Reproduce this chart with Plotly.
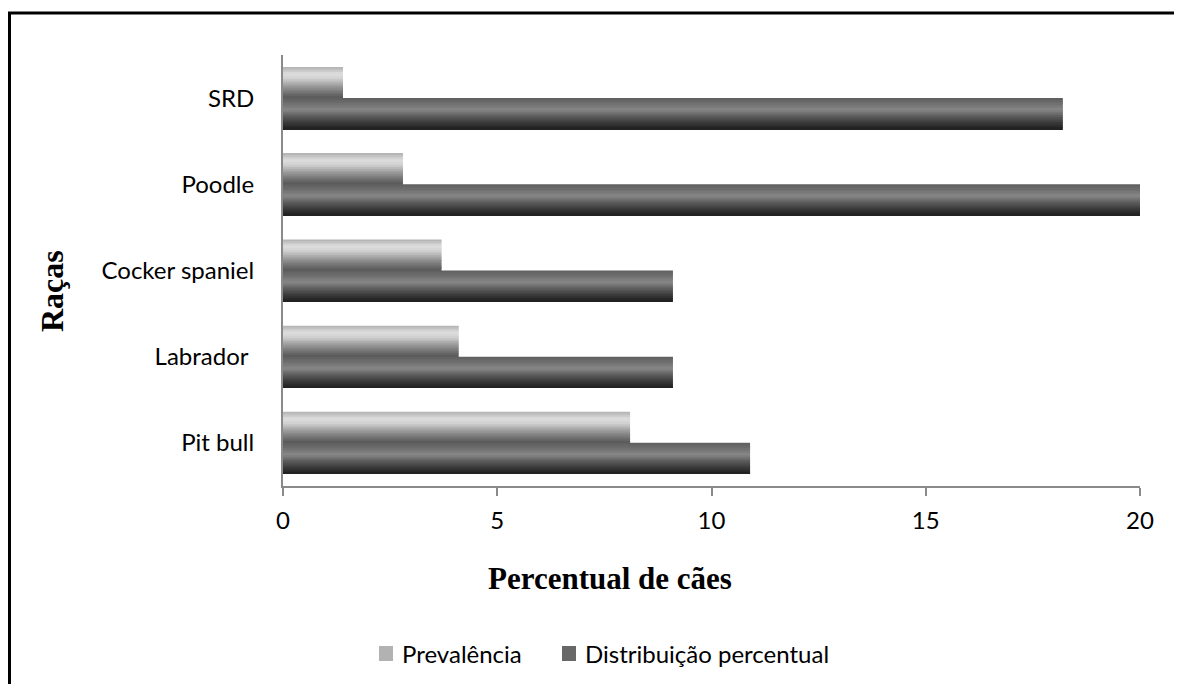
import plotly.graph_objects as go

categories = ["Pit bull", "Labrador ", "Cocker spaniel", "Poodle", "SRD"]
series_names = ["Prevalência", "Distribuição percentual"]
prevalencia = [8.1, 4.1, 3.7, 2.8, 1.4]
distribuicao = [10.9, 9.1, 9.1, 20.0, 18.2]
x_ticks = [0, 5, 10, 15, 20]

# page has an 8px body margin; work in page coordinates
OFF = 8
W, H = 1182 - OFF, 684 - OFF
PL, PR, PT, PB = 283, 1140, 55, 486  # plot area in page px
L, T = PL - OFF, PT - OFF
R = W - L - (PR - PL)
B = H - T - (PB - PT)
pw, ph = PR - PL, PB - PT

def hexrgb(h):
    h = h.lstrip("#")
    return tuple(int(h[i:i + 2], 16) for i in (0, 2, 4))

def grad(stops, t):
    for (t0, c0), (t1, c1) in zip(stops, stops[1:]):
        if t0 <= t <= t1:
            f = (t - t0) / (t1 - t0) if t1 > t0 else 0
            a, b = hexrgb(c0), hexrgb(c1)
            return "rgb(%d,%d,%d)" % tuple(round(a[i] + (b[i] - a[i]) * f) for i in range(3))
    return stops[-1][1]

light_stops = [(0, "#b0b0b0"), (0.22, "#dedede"), (0.38, "#cfcfcf"), (0.62, "#9a9a9a"),
               (0.82, "#747474"), (1.0, "#575757")]
dark_stops = [(0, "#5e5e5e"), (0.15, "#6c6c6c"), (0.38, "#878787"), (0.6, "#5a5a5a"),
              (0.82, "#363636"), (1.0, "#1e1e1e")]
legend_colors = ["#b2b2b2", "#686868"]

fig = go.Figure()
bw = 0.36
N = 18
sw = bw / N
for name, vals, stops, top in [(series_names[0], prevalencia, light_stops, bw),
                               (series_names[1], distribuicao, dark_stops, 0.0)]:
    for k in range(N):
        t = (k + 0.5) / N
        fig.add_trace(go.Bar(
            y=categories, x=vals, orientation="h", name=name,
            offset=top - (k + 1) * sw, width=sw * 1.02,
            marker=dict(color=grad(stops, t), line=dict(width=0)),
            showlegend=False, hovertemplate=name + ": %{x}<extra>%{y}</extra>",
        ))

def px(xp):
    return (xp - PL) / pw

def py(yp):
    return (PB - yp) / ph

serif = "Liberation Serif, Times New Roman, serif"
sans = "Lato, Open Sans, sans-serif"

# manual legend (page px positions)
leg_marker_x = [379, 562]
leg_text_x = [400, 583]
leg_y0, leg_y1, leg_yc = 646, 661, 653
shapes = [
    dict(type="line", xref="paper", yref="paper", x0=px(9.5), x1=px(9.5),
         y0=py(12), y1=py(700), line=dict(color="black", width=3)),
    dict(type="line", xref="paper", yref="paper", x0=px(8), x1=px(1200),
         y0=py(13), y1=py(13), line=dict(color="black", width=3)),
]
annotations = [
    dict(text="<b>Percentual de cães</b>", xref="paper", yref="paper",
         x=px(610), y=py(578), xanchor="center", yanchor="middle", showarrow=False,
         font=dict(family=serif, size=31)),
    dict(text="<b>Raças</b>", xref="paper", yref="paper", textangle=-90,
         x=px(52), y=py(291), xanchor="center", yanchor="middle", showarrow=False,
         font=dict(family=serif, size=32)),
]
for name, col, mx, tx in zip(series_names, legend_colors, leg_marker_x, leg_text_x):
    shapes.append(dict(type="rect", xref="paper", yref="paper",
                       x0=px(mx), x1=px(mx + 14), y0=py(leg_y1), y1=py(leg_y0),
                       fillcolor=col, line=dict(width=0)))
    annotations.append(dict(text=name, xref="paper", yref="paper", x=px(tx), y=py(leg_yc),
                            xanchor="left", yanchor="middle", showarrow=False,
                            font=dict(family=sans, size=24)))

fig.update_layout(
    width=W, height=H, barmode="overlay", showlegend=False,
    margin=dict(l=L, r=R, t=T, b=B, autoexpand=False),
    paper_bgcolor="white", plot_bgcolor="white",
    font=dict(family=sans, size=24, color="black"),
    xaxis=dict(range=[0, 20], tickvals=x_ticks, showgrid=False, zeroline=False,
               showline=True, linecolor="#8a8a8a", linewidth=2,
               ticks="outside", ticklen=8, tickwidth=2, tickcolor="#8a8a8a",
               ticklabelstandoff=4, tickfont=dict(size=24)),
    yaxis=dict(type="category", categoryorder="array", categoryarray=categories,
               range=[-0.5, 4.5], showgrid=False, zeroline=False,
               showline=True, linecolor="#8a8a8a", linewidth=2, ticks="",
               ticklabelstandoff=22, tickfont=dict(size=24)),
    annotations=annotations,
    shapes=shapes,
)

fig.write_html("out.html")
